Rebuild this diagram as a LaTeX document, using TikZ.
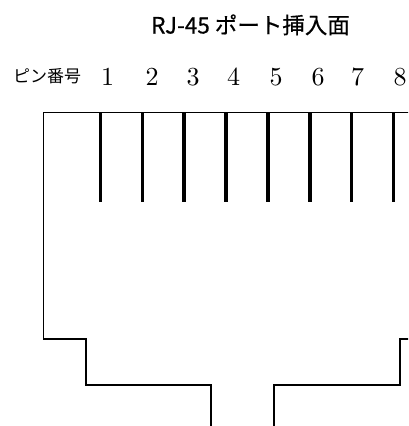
\documentclass[tikz,border=0pt]{standalone}
\usepackage{fontspec}
\newfontfamily\jpsans{Noto Sans CJK JP}
\newfontfamily\jpsanstitle[FakeBold=0.5]{Noto Sans CJK JP}
\newfontfamily\digitfont{lmroman10-regular}[Extension=.otf]
\begin{document}
\begin{tikzpicture}[x=1pt,y=-1pt,
  outline/.style={line width=1.8pt,black},
  pinline/.style={line width=3.6pt,black},
  titletext/.style={font=\jpsanstitle\fontsize{22.5}{24}\selectfont,inner sep=0pt,anchor=base},
  pinnum/.style={font=\digitfont\fontsize{26}{30}\selectfont,inner sep=0pt,anchor=base},
  pinhead/.style={font=\jpsans\fontsize{17}{19}\selectfont,inner sep=0pt}]
\useasboundingbox (0,0) rectangle (408,426);
\clip (0,0) rectangle (408,426);
% title
\node[titletext] (title) at (250.5,33.5) {RJ-45 ポート挿入面};
% pin header
\node[pinhead] (pinlabel) at (47,76.5) {ピン番号};
\foreach \i/\x in {1/107.5,2/152,3/193,4/233.5,5/276,6/318,7/357.5,8/400}{
  \node[pinnum] (n\i) at (\x,85) {\i};
}
% outline
\draw[outline] (410,112.5) -- (43.5,112.5) -- (43.5,339) -- (86,339) -- (86,385) -- (211,385) -- (211,430);
\draw[outline] (274,430) -- (274,385) -- (400,385) -- (400,339) -- (410,339);
% pins
\foreach \i in {0,...,7}{
  \draw[pinline] ({100.5+41.85*\i},112.5) -- ({100.5+41.85*\i},201.5);
}
\end{tikzpicture}
\end{document}
